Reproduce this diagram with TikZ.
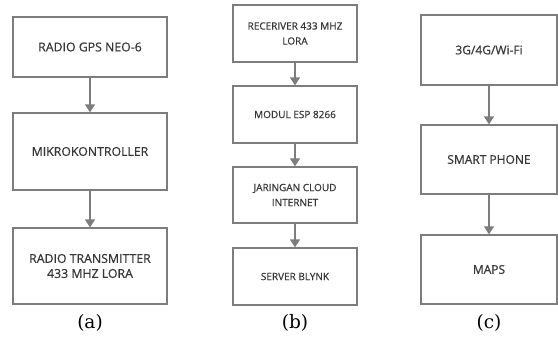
\documentclass[tikz,border=0pt]{standalone}
\usepackage{fontspec}
\usepackage{xcolor}
\usepackage{tikz}
\usetikzlibrary{arrows.meta,positioning}
\newfontface\boxfont{Open Sans}[FakeBold=0.6]
\newfontfamily\capfont{DejaVu Serif}
\definecolor{linegray}{RGB}{125,125,125}
\definecolor{textgray}{RGB}{55,55,55}

\begin{document}
\begin{tikzpicture}[x=1pt, y=-1pt,
        blok/.style={draw=linegray, line width=1.3pt, fill=white, inner sep=0pt,
            align=center, text=textgray},
        blokA/.style={blok, minimum width=154pt, font=\boxfont\fontsize{12.3}{15}\selectfont},
        blokB/.style={blok, minimum width=124pt, font=\boxfont\fontsize{10}{15}\selectfont},
        blokC/.style={blok, minimum width=136pt, font=\boxfont\fontsize{12}{15}\selectfont},
        panah/.style={draw=linegray, line width=1.4pt, -{Triangle[width=10pt,length=8pt]}},
        caption/.style={font=\capfont\fontsize{18.5}{20}\selectfont}
    ]
        \useasboundingbox (0,0) rectangle (558,340);

        % (a) Transmitter
        \begin{scope}[shift={(90,0)}]
            \node[blokA, minimum height=60pt] (a1) at (0, 47) {RADIO GPS NEO-6};
            \node[blokA, minimum height=77pt] (a2) at (0, 151.5) {MIKROKONTROLLER};
            \node[blokA, minimum height=76pt] (a3) at (0, 266) {RADIO TRANSMITTER\\433 MHZ LORA};

            \draw[panah] (a1) -- (a2);
            \draw[panah] (a2) -- (a3);

            \node[caption] (capA) at (0, 323) {(a)};
        \end{scope}

        % (b) Receiver
        \begin{scope}[shift={(295,0)}]
            \node[blokB, minimum height=57pt] (b1) at (0, 33.5) {RECERIVER 433 MHZ\\LORA};
            \node[blokB, minimum height=57pt] (b2) at (0, 114.5) {MODUL ESP 8266};
            \node[blokB, minimum height=56pt] (b3) at (0, 195) {JARINGAN CLOUD\\INTERNET};
            \node[blokB, minimum height=57pt] (b4) at (0, 276.5) {SERVER BLYNK};

            \draw[panah] (b1) -- (b2);
            \draw[panah] (b2) -- (b3);
            \draw[panah] (b3) -- (b4);

            \node[caption] (capB) at (0, 323) {(b)};
        \end{scope}

        % (c) User
        \begin{scope}[shift={(489,0)}]
            \node[blokC, minimum height=70pt] (c1) at (0, 50) {3G/4G/Wi-Fi};
            \node[blokC, minimum height=69pt] (c2) at (0, 159.5) {SMART PHONE};
            \node[blokC, minimum height=69pt] (c3) at (0, 269.5) {MAPS};

            \draw[panah] (c1) -- (c2);
            \draw[panah] (c2) -- (c3);

            \node[caption] (capC) at (0, 323) {(c)};
        \end{scope}
    \end{tikzpicture}
\end{document}
